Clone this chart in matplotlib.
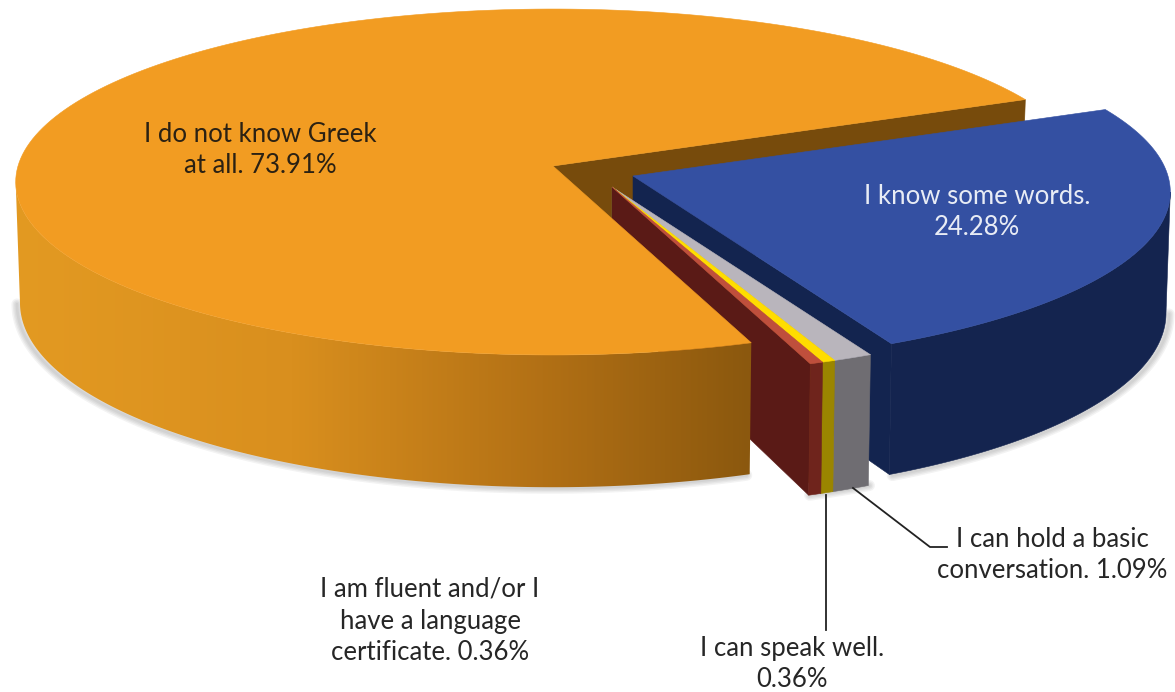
import numpy as np
import matplotlib
matplotlib.use('Agg')
import matplotlib.pyplot as plt
from matplotlib.patches import Polygon
from matplotlib.colors import LinearSegmentedColormap

# survey answers, in pie order
labels = ['I do not know Greek\nat all.', 'I am fluent and/or I\nhave a language\ncertificate.',
          'I can speak well.\n', 'I can hold a basic\nconversation.', 'I know some words.\n']
shares = [73.91, 0.36, 0.36, 1.09, 24.28]

top_colors = ['#f29c22', '#bf4f3c', '#ffdd00', '#b9b5bc', '#3450a2']
wall_colors = ['#b27015', '#6f241c', '#9a8500', '#6f6d72', '#14244f']
cut_colors = ['#774b0c', '#5a1a16', '#9a8500', '#6f6d72', '#13244f']
text_colors = ['#2b2113', '#262626', '#262626', '#262626', '#e8ecf5']

# where each slice's tip sits after being pulled out
tips = [(553, 166), (612, 187), (612, 187), (612, 187), (633, 176)]
label_pos = [(260, 150), (430, 621), (792, 664), (1052, 555), (977, 212)]

START = 23.7
A, B, K, H = 535, 171.5, 0.0925, 120
# angles where the outline of the perspective ellipse turns over
LEFT_TURN = 180 + np.degrees(np.arcsin(K))
RIGHT_TURN = 360 - np.degrees(np.arcsin(K))


def top_arc(t0, t1, tip):
    t = np.radians(np.linspace(t0, t1, 200))
    w = 1 + K * np.sin(t)
    return np.column_stack([tip[0] + A * np.cos(t) / w, tip[1] - B * np.sin(t) / w])


def bottom_arc(t0, t1, tip):
    t = np.radians(np.linspace(t0, t1, 200))
    w = 1 + K * np.sin(t)
    return np.column_stack([tip[0] + 0.992 * A * np.cos(t) / w, tip[1] - B * np.sin(t) / w + H / w])


def fill(ax, pts, color, z):
    p = Polygon(pts, closed=True, facecolor=color, edgecolor=color, lw=0.4, zorder=z)
    ax.add_patch(p)
    return p


def cut_face(ax, angle, tip, color, z):
    a = top_arc(angle, angle, tip)[0]
    b = bottom_arc(angle, angle, tip)[0]
    fill(ax, [tip, a, b, (tip[0], tip[1] + H)], color, z)


def shadow(ax, t0, t1, tip, dx, dy):
    pts = bottom_arc(t0, t1, tip) + [dx, dy]
    for lw in [8, 6, 4, 2]:
        ax.plot(pts[:, 0], pts[:, 1], color='#555555', alpha=0.07, lw=lw, zorder=1,
                solid_capstyle='round')


fig = plt.figure(figsize=(11.75, 6.92), dpi=100)
ax = fig.add_axes([0, 0, 1, 1])
ax.axis('off')

# slice angles from the shares, going anticlockwise
edges = START + np.cumsum([0] + [s * 3.6 for s in shares])
# the percentages are rounded, so close the circle on the last slice
edges[-1] = START + 360

shadow(ax, LEFT_TURN, edges[1], tips[0], -3, 1)
shadow(ax, edges[1], edges[4], tips[2], 1, 0)
shadow(ax, edges[4], RIGHT_TURN, tips[4], 3, 1)

# back face of the big slice goes behind everything
cut_face(ax, edges[0], tips[0], cut_colors[0], 2)

z = 3
for i in [4, 3, 2, 1, 0]:
    t0, t1 = edges[i], edges[i + 1]
    tip = tips[i]
    wall_from, wall_to = (LEFT_TURN, t1) if i == 0 else (t0, min(t1, RIGHT_TURN))
    wall = np.vstack([top_arc(wall_from, wall_to, tip), bottom_arc(wall_from, wall_to, tip)[::-1]])
    if i != 0:
        cut_face(ax, t0, tip, cut_colors[i], z)
    p = fill(ax, wall, wall_colors[i], z + 1)
    if i == 0:
        # shaded wall, light on the left and dark at the cut
        p.set_facecolor('none')
        p.set_edgecolor('none')
        cmap = LinearSegmentedColormap.from_list('wall', [(0, '#e39a22'), (0.38, '#d98f1e'),
                                                          (0.72, '#b27015'), (1, '#8b580e')])
        im = ax.imshow(np.linspace(0, 1, 400).reshape(1, -1), cmap=cmap, aspect='auto',
                       extent=[10, 752, 500, 150], zorder=z + 1)
        im.set_clip_path(p)
    face = np.vstack([[tip], top_arc(t0, t1, tip)])
    fill(ax, face, top_colors[i], z + 2)
    z += 3

# leader lines
ax.plot([826, 826], [495, 630], color='#222222', lw=1.3, zorder=30)
ax.plot([853, 930, 947], [488, 547, 547], color='#222222', lw=1.3, zorder=30)

for lab, val, pos, col in zip(labels, shares, label_pos, text_colors):
    ax.text(pos[0], pos[1], f'{lab} {val:.2f}%'.replace('\n ', '\n'), ha='center', va='center',
            fontsize=18.5, family='Lato', color=col, linespacing=1.33, zorder=31)

ax.set_xlim(0, 1175)
ax.set_ylim(692, 0)
fig.savefig('out.png', dpi=100)
